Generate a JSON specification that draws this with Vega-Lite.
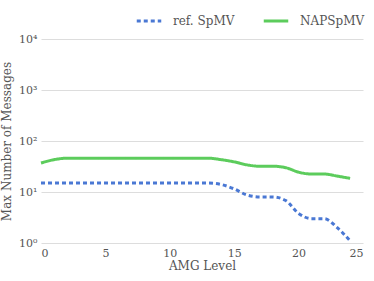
{
  "$schema": "https://vega.github.io/schema/vega-lite/v6.json",
  "autosize": {"type": "none"},
  "width": 322,
  "height": 204,
  "padding": {"left": 41, "top": 39, "right": 11, "bottom": 38},
  "background": "white",
  "config": {
    "view": {"stroke": null},
    "font": "DejaVu Serif",
    "axis": {"labelColor": "#555", "titleColor": "#555", "labelFont": "DejaVu Serif", "titleFont": "DejaVu Serif", "titleFontWeight": "normal", "labelFontSize": 11, "titleFontSize": 12},
    "legend": {"labelColor": "#555", "labelFont": "DejaVu Serif", "labelFontSize": 12}
  },
  "data": {"values": [
    {"level": 0, "msgs": 15, "method": "ref. SpMV"},
    {"level": 1, "msgs": 15, "method": "ref. SpMV"},
    {"level": 2, "msgs": 15, "method": "ref. SpMV"},
    {"level": 3, "msgs": 15, "method": "ref. SpMV"},
    {"level": 4, "msgs": 15, "method": "ref. SpMV"},
    {"level": 5, "msgs": 15, "method": "ref. SpMV"},
    {"level": 6, "msgs": 15, "method": "ref. SpMV"},
    {"level": 7, "msgs": 15, "method": "ref. SpMV"},
    {"level": 8, "msgs": 15, "method": "ref. SpMV"},
    {"level": 9, "msgs": 15, "method": "ref. SpMV"},
    {"level": 10, "msgs": 15, "method": "ref. SpMV"},
    {"level": 11, "msgs": 15, "method": "ref. SpMV"},
    {"level": 12, "msgs": 15, "method": "ref. SpMV"},
    {"level": 13, "msgs": 15, "method": "ref. SpMV"},
    {"level": 14, "msgs": 14, "method": "ref. SpMV"},
    {"level": 15, "msgs": 11.5, "method": "ref. SpMV"},
    {"level": 16, "msgs": 8.7, "method": "ref. SpMV"},
    {"level": 17, "msgs": 8, "method": "ref. SpMV"},
    {"level": 18, "msgs": 8, "method": "ref. SpMV"},
    {"level": 19, "msgs": 6.8, "method": "ref. SpMV"},
    {"level": 20, "msgs": 3.8, "method": "ref. SpMV"},
    {"level": 21, "msgs": 3, "method": "ref. SpMV"},
    {"level": 22, "msgs": 3, "method": "ref. SpMV"},
    {"level": 23, "msgs": 2, "method": "ref. SpMV"},
    {"level": 24, "msgs": 1.1, "method": "ref. SpMV"},
    {"level": 0, "msgs": 37, "method": "NAPSpMV"},
    {"level": 1, "msgs": 43, "method": "NAPSpMV"},
    {"level": 2, "msgs": 46, "method": "NAPSpMV"},
    {"level": 3, "msgs": 46, "method": "NAPSpMV"},
    {"level": 4, "msgs": 46, "method": "NAPSpMV"},
    {"level": 5, "msgs": 46, "method": "NAPSpMV"},
    {"level": 6, "msgs": 46, "method": "NAPSpMV"},
    {"level": 7, "msgs": 46, "method": "NAPSpMV"},
    {"level": 8, "msgs": 46, "method": "NAPSpMV"},
    {"level": 9, "msgs": 46, "method": "NAPSpMV"},
    {"level": 10, "msgs": 46, "method": "NAPSpMV"},
    {"level": 11, "msgs": 46, "method": "NAPSpMV"},
    {"level": 12, "msgs": 46, "method": "NAPSpMV"},
    {"level": 13, "msgs": 46, "method": "NAPSpMV"},
    {"level": 14, "msgs": 43, "method": "NAPSpMV"},
    {"level": 15, "msgs": 39, "method": "NAPSpMV"},
    {"level": 16, "msgs": 34, "method": "NAPSpMV"},
    {"level": 17, "msgs": 32, "method": "NAPSpMV"},
    {"level": 18, "msgs": 32, "method": "NAPSpMV"},
    {"level": 19, "msgs": 30, "method": "NAPSpMV"},
    {"level": 20, "msgs": 24.5, "method": "NAPSpMV"},
    {"level": 21, "msgs": 22.5, "method": "NAPSpMV"},
    {"level": 22, "msgs": 22.5, "method": "NAPSpMV"},
    {"level": 23, "msgs": 20.5, "method": "NAPSpMV"},
    {"level": 24, "msgs": 18.5, "method": "NAPSpMV"}
  ]},
  "mark": {"type": "line", "interpolate": "monotone", "strokeWidth": 3},
  "encoding": {
    "x": {"field": "level", "type": "quantitative", "title": "AMG Level",
      "scale": {"domain": [0, 25], "nice": false},
      "axis": {"values": [0, 5, 10, 15, 20, 25], "grid": false, "domain": false, "ticks": false, "labelPadding": 4, "titlePadding": 2}},
    "y": {"field": "msgs", "type": "quantitative", "title": "Max Number of Messages",
      "scale": {"type": "log", "domain": [1, 10000], "nice": false},
      "axis": {"values": [1, 10, 100, 1000, 10000], "domain": false, "ticks": false, "gridColor": "#ddd", "labelPadding": 4, "titlePadding": 5,
        "labelExpr": "['10⁰','10¹','10²','10³','10⁴'][round(log(datum.value)/LN10)]"}},
    "color": {"field": "method", "type": "nominal",
      "scale": {"domain": ["ref. SpMV", "NAPSpMV"], "range": ["#4a78d4", "#5ccc5c"]},
      "legend": {"title": null, "orient": "none", "legendX": 94, "legendY": -32, "direction": "horizontal", "symbolType": "stroke", "symbolSize": 600, "symbolStrokeWidth": 3, "columnPadding": 22, "labelOffset": 10}},
    "strokeDash": {"field": "method", "type": "nominal",
      "scale": {"domain": ["ref. SpMV", "NAPSpMV"], "range": [[4, 3], [1, 0]]},
      "legend": null}
  }
}
